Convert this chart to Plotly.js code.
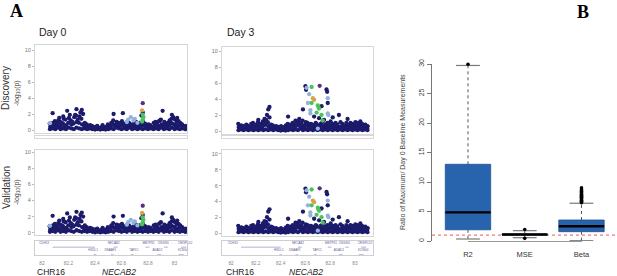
<!DOCTYPE html>
<html><head><meta charset="utf-8">
<script src="https://cdn.plot.ly/plotly-3.0.1.min.js"></script>
<style>html,body{margin:0;padding:0;background:#fff}#chart{width:617px;height:276px}</style>
</head><body><div id="chart"></div>
<script>
// ---------- Panel A data (position in Mb, -log10 p) ----------
const day0Navy = [
[82.06,0.1],[82.062,0.4],[82.058,0.8],[82.08,0.2],[82.078,0.5],[82.083,0.9],[82.10,0.1],[82.102,0.6],[82.097,1.1],
[82.12,0.3],[82.118,0.7],[82.123,1.2],[82.14,0.1],[82.142,0.5],[82.137,1.0],[82.16,0.2],[82.158,0.8],[82.163,1.4],
[82.18,0.1],[82.182,0.6],[82.177,1.3],[82.20,0.3],[82.198,0.9],[82.203,1.5],[82.22,0.2],[82.222,0.7],[82.217,1.2],
[82.24,0.1],[82.238,0.8],[82.243,1.6],[82.26,0.3],[82.262,1.0],[82.257,1.8],[82.28,0.2],[82.278,0.9],[82.283,1.7],
[82.30,0.1],[82.302,0.7],[82.297,1.4],[82.32,0.2],[82.318,0.5],[82.323,0.9],[82.34,0.1],[82.342,0.4],[82.337,0.7],
[82.36,0.2],[82.358,0.3],[82.363,0.6],[82.38,0.1],[82.382,0.4],[82.377,0.5],[82.40,0.05],[82.398,0.2],[82.403,0.4],
[82.42,0.1],[82.422,0.3],[82.417,0.5],[82.44,0.05],[82.438,0.2],[82.443,0.3],[82.46,0.1],[82.462,0.3],[82.457,0.6],
[82.48,0.05],[82.478,0.2],[82.483,0.4],[82.50,0.1],[82.502,0.3],[82.497,0.7],[82.52,0.2],[82.518,0.5],[82.523,0.9],
[82.54,0.1],[82.542,0.6],[82.537,1.2],[82.56,0.3],[82.558,0.7],[82.563,1.0],[82.58,0.2],[82.582,0.5],[82.577,0.9],
[82.60,0.1],[82.598,0.6],[82.603,1.1],[82.62,0.2],[82.622,0.4],[82.617,0.8],[82.64,0.1],[82.638,0.5],[82.643,1.0],
[82.66,0.3],[82.662,0.6],[82.657,0.9],[82.68,0.1],[82.678,0.4],[82.683,0.7],[82.70,0.2],[82.702,0.5],[82.697,0.8],
[82.72,0.1],[82.718,0.3],[82.723,0.6],[82.74,0.2],[82.742,0.5],[82.737,0.9],[82.76,0.1],[82.758,0.6],[82.763,1.0],
[82.78,0.2],[82.782,0.4],[82.777,0.8],[82.80,0.1],[82.798,0.5],[82.803,0.7],[82.82,0.2],[82.822,0.3],[82.817,0.6],
[82.84,0.1],[82.838,0.4],[82.843,0.9],[82.86,0.2],[82.862,0.6],[82.857,1.0],[82.88,0.1],[82.878,0.5],[82.883,1.1],
[82.90,0.3],[82.902,0.7],[82.897,1.3],[82.92,0.1],[82.918,0.6],[82.923,1.0],[82.94,0.2],[82.942,0.4],[82.937,0.8],
[82.96,0.1],[82.958,0.6],[82.963,1.2],[82.98,0.3],[82.982,0.8],[82.977,1.4],[83.00,0.1],[82.998,0.7],[83.003,1.3],
[83.02,0.2],[83.022,0.5],[83.017,1.0],[83.04,0.1],[83.038,0.6],[83.043,0.9],[83.06,0.2],[83.062,0.4],[83.057,0.7],
[83.08,0.1],[83.078,0.3],[83.083,0.5],
[82.08,2.1],[82.13,1.5],[82.19,2.4],[82.21,1.9],[82.26,2.6],[82.29,2.2],[82.30,2.5],[82.31,2.0],[82.25,1.9],[82.16,1.7],
[82.54,2.0],[82.61,2.1],[82.91,2.4],[82.98,1.9],[83.02,1.5],[82.99,1.6],[82.71,1.0],[82.75,1.8],[82.76,2.2],
[82.07,0.6],[82.09,0.3],[82.11,0.8],[82.15,0.9],[82.17,0.4],[82.23,1.0],[82.27,1.3],[82.33,0.6],[82.35,0.2],[82.45,0.3],
[82.51,0.4],[82.53,0.8],[82.57,0.7],[82.59,0.9],[82.63,0.6],[82.81,0.3],[82.85,0.8],[82.87,0.7],[82.89,1.2],[82.93,0.5],
[82.95,0.9],[82.97,1.0],[83.01,0.4],[83.03,1.1],[83.05,0.6],[83.07,0.3]
];
const day0Light = [[82.06,0.85],[82.65,1.3],[82.67,1.6],[82.69,1.2],[82.70,1.4],[82.64,1.0],[82.72,0.9]];
const day0Green = [[82.76,1.9],[82.765,1.6],[82.76,1.3],[82.755,1.05]];
const day0Orange = [[82.755,2.45]];
const day0Lead = [[82.76,3.35]];

const day3Navy = [
[82.06,0.1],[82.062,0.5],[82.058,0.9],[82.08,0.2],[82.078,0.4],[82.083,0.7],[82.10,0.1],[82.102,0.3],[82.097,0.6],
[82.12,0.2],[82.118,0.5],[82.123,0.8],[82.14,0.1],[82.142,0.3],[82.137,0.5],[82.16,0.2],[82.158,0.6],[82.163,0.9],
[82.18,0.1],[82.182,0.4],[82.177,1.0],[82.20,0.2],[82.198,0.5],[82.203,0.8],[82.22,0.1],[82.222,0.6],[82.217,1.1],
[82.24,0.2],[82.238,0.5],[82.243,0.9],[82.26,0.1],[82.262,0.7],[82.257,1.2],[82.28,0.2],[82.278,0.8],[82.283,1.4],
[82.30,0.1],[82.302,0.6],[82.297,1.1],[82.32,0.2],[82.318,0.4],[82.323,0.8],[82.34,0.1],[82.342,0.5],[82.337,0.7],
[82.36,0.2],[82.358,0.3],[82.363,0.6],[82.38,0.1],[82.382,0.4],[82.377,0.5],[82.40,0.05],[82.398,0.3],[82.403,0.6],
[82.42,0.1],[82.422,0.2],[82.417,0.4],[82.44,0.05],[82.438,0.3],[82.443,0.7],[82.46,0.1],[82.462,0.4],[82.457,0.9],
[82.48,0.2],[82.478,0.5],[82.483,0.8],[82.50,0.1],[82.502,0.6],[82.497,1.0],[82.52,0.2],[82.518,0.4],[82.523,0.9],
[82.54,0.1],[82.542,0.7],[82.537,1.2],[82.56,0.3],[82.558,0.6],[82.563,1.0],[82.58,0.1],[82.582,0.5],[82.577,1.3],
[82.60,0.2],[82.598,0.8],[82.603,1.1],[82.62,0.1],[82.622,0.6],[82.617,1.0],[82.64,0.2],[82.638,0.4],[82.643,0.9],
[82.66,0.1],[82.662,0.5],[82.657,0.8],[82.68,0.2],[82.678,0.6],[82.683,1.0],[82.70,0.1],[82.702,0.4],[82.697,0.7],
[82.72,0.2],[82.718,0.5],[82.723,0.9],[82.74,0.1],[82.742,0.6],[82.737,1.1],[82.76,0.2],[82.758,0.4],[82.763,0.8],
[82.78,0.1],[82.782,0.5],[82.777,1.0],[82.80,0.2],[82.798,0.7],[82.803,1.2],[82.82,0.1],[82.822,0.5],[82.817,0.9],
[82.84,0.2],[82.838,0.6],[82.843,1.0],[82.86,0.1],[82.862,0.4],[82.857,0.8],[82.88,0.2],[82.878,0.5],[82.883,1.1],
[82.90,0.1],[82.902,0.6],[82.897,0.9],[82.92,0.2],[82.918,0.4],[82.923,0.7],[82.94,0.1],[82.942,0.5],[82.937,0.8],
[82.96,0.2],[82.958,0.6],[82.963,1.0],[82.98,0.1],[82.982,0.4],[82.977,0.9],[83.00,0.2],[82.998,0.7],[83.003,1.1],
[83.02,0.1],[83.022,0.5],[83.017,1.0],[83.04,0.2],[83.038,0.6],[83.043,1.2],[83.06,0.1],[83.062,0.5],[83.057,0.9],
[83.08,0.2],[83.078,0.4],[83.083,0.8],[83.10,0.1],[83.098,0.3],[83.102,0.6],
[82.31,3.0],[82.30,2.7],[82.29,2.0],[82.31,1.7],[82.27,1.5],[82.22,1.4],[82.46,1.8],[82.58,2.7],[82.60,5.6],[82.605,5.15],
[82.77,5.2],[82.775,4.9],[82.78,3.5],[82.73,3.1],[82.82,1.7],[82.87,2.0],[82.94,1.5],[82.55,1.5],[82.52,1.3],[82.67,1.8],
[82.71,1.6],[82.75,1.4],
[82.07,0.3],[82.09,0.6],[82.11,0.4],[82.13,0.7],[82.15,0.2],[82.17,0.8],[82.19,0.5],[82.21,0.3],[82.23,0.9],[82.25,0.4],
[82.27,1.0],[82.33,0.6],[82.35,0.3],[82.37,0.5],[82.41,0.4],[82.43,0.5],[82.47,0.6],[82.49,0.3],[82.51,0.5],[82.53,0.9],
[82.57,0.8],[82.59,0.4],[82.61,0.7],[82.63,0.3],[82.65,0.6],[82.69,0.9],[82.73,0.3],[82.77,0.6],[82.79,0.3],[82.81,0.9],
[82.83,0.4],[82.85,0.7],[82.89,0.3],[82.91,0.6],[82.93,1.0],[82.95,0.4],[82.97,0.8],[82.99,0.6],[83.01,0.3],[83.03,0.8],
[83.05,0.9],[83.07,0.6],[83.09,0.4]
];
const day3Light = [[82.61,5.4],[82.63,4.6],[82.62,3.5],[82.64,2.6],[82.64,2.2],[82.78,4.1],[82.78,2.2],[82.785,2.0],[82.70,0.3]];
const day3Green = [[82.65,5.5],[82.65,3.5],[82.70,3.2],[82.705,3.0],[82.71,2.8],[82.69,2.3],[82.73,2.0],[82.74,1.3]];
const day3Orange = [[82.66,4.1],[82.67,3.9]];
const day3Lead = [[82.715,5.65]];

const yTicks = [0, 2, 4, 6, 8, 10];
const mbTicks = [82, 82.2, 82.4, 82.6, 82.8, 83];

// gene track
const geneLabels = ["CDH13 →", "NECAB2 →", "← MBTPS1", "OSGIN1 →", "← CRISPLD2", "HSDL1 ←", "DNAAF1 →", "← TAF1C", "ADAD2 →", "← KCNG4"];
const geneLabelPos = [82.03, 82.555, 82.79, 82.93, 83.065, 82.40, 82.53, 82.68, 82.885, 83.05];
const geneStart = [82.08, 82.54, 82.78, 82.92, 83.05, 82.39, 82.52, 82.67, 82.87, 83.03];
const geneEnd   = [82.40, 82.57, 82.81, 82.95, 83.09, 82.41, 82.54, 82.69, 82.90, 83.07];
const geneRow   = [0.86, 0.86, 0.86, 0.86, 0.86, 0.32, 0.32, 0.32, 0.32, 0.32];

// ---------- Panel B data (ratio of maximum / day 0 baseline) ----------
const boxCategories = ["R2", "MSE", "Beta"];
const boxLower  = [0.34, 0.56, 0.05];
const boxQ1     = [1.9, 1.0, 1.58];
const boxMedian = [4.85, 1.1, 2.5];
const boxQ3     = [13.0, 1.2, 3.56];
const boxUpper  = [29.75, 1.75, 6.4];
const outlierCategory = ["R2","MSE","MSE","Beta","Beta","Beta","Beta","Beta","Beta","Beta","Beta","Beta","Beta","Beta","Beta","Beta","Beta","Beta","Beta","Beta"];
const outlierValue    = [29.95, 1.95, 0.45, 6.5, 6.6, 6.75, 6.9, 7.0, 7.15, 7.3, 7.4, 7.6, 7.75, 7.9, 8.0, 8.2, 8.4, 8.5, 8.7, 9.0];
const baselineRatio = 1;

// ---------- helpers ----------
const W = 617, H = 276;
const dX = (a, b) => [a / W, b / W];
const dY = (t, b) => [1 - b / H, 1 - t / H];
const FONT = "Liberation Sans, Arial, sans-serif";
const NAVY = "#1c1a6b", LIGHT = "#93b2dc", GREEN = "#4cc35a", ORANGE = "#d9a14a", PURPLE = "#5b2d8c";

const traces = [];
const layout = {
  width: W, height: H, margin: {l: 0, r: 0, t: 0, b: 0},
  paper_bgcolor: "#fff", plot_bgcolor: "rgba(0,0,0,0)",
  showlegend: false, font: {family: FONT, color: "#333"},
  annotations: []
};

function addPoints(arr, color, size, xa, ya) {
  traces.push({type: "scatter", mode: "markers", x: arr.map(p => p[0]), y: arr.map(p => p[1]),
    xaxis: xa, yaxis: ya, hoverinfo: "skip",
    marker: {color: color, size: size, line: {width: 0}}});
}

const panels = [
  {n: "", data: "d0", xd: [35, 187], yd: [45, 133], xr: [81.947, 83.094], yr: [-0.375, 10.625]},
  {n: "2", data: "d3", xd: [222, 373], yd: [47, 134], xr: [81.927, 83.145], yr: [-0.375, 10.5]},
  {n: "3", data: "d0", xd: [35, 187], yd: [150, 235], xr: [81.947, 83.094], yr: [-0.29, 10.29]},
  {n: "4", data: "d3", xd: [222, 373], yd: [150, 236], xr: [81.927, 83.145], yr: [-0.38, 10.5]}
];
const sets = {
  d0: [day0Navy, day0Light, day0Green, day0Orange, day0Lead],
  d3: [day3Navy, day3Light, day3Green, day3Orange, day3Lead]
};
panels.forEach(p => {
  const xa = "x" + p.n, ya = "y" + p.n;
  const s = sets[p.data];
  addPoints(s[0], NAVY, 4.3, xa, ya);
  addPoints(s[1], LIGHT, 4.3, xa, ya);
  addPoints(s[2], GREEN, 4.3, xa, ya);
  addPoints(s[3], ORANGE, 4.3, xa, ya);
  addPoints(s[4], PURPLE, 4.3, xa, ya);
  layout["xaxis" + p.n] = {domain: dX(p.xd[0], p.xd[1]), range: p.xr, anchor: ya,
    showline: true, mirror: true, linecolor: "#d6d6d6", linewidth: 1,
    showgrid: false, zeroline: false, showticklabels: false, ticks: "", fixedrange: true};
  layout["yaxis" + p.n] = {domain: dY(p.yd[0], p.yd[1]), range: p.yr, anchor: xa,
    showline: true, mirror: true, linecolor: "#d6d6d6", linewidth: 1,
    showgrid: false, zeroline: false, tickvals: yTicks, ticks: "outside", ticklen: 2,
    tickcolor: "#bbb", tickfont: {size: 5.5, color: "#777", family: FONT}, fixedrange: true};
});

// thin (cropped) track frames under the discovery panels
[{n: "9", xd: [35, 187]}, {n: "10", xd: [222, 373]}].forEach(t => {
  layout["xaxis" + t.n] = {domain: dX(t.xd[0], t.xd[1]), range: [0, 1], anchor: "y" + t.n,
    showline: true, mirror: true, linecolor: "#d8d8d8", linewidth: 1, showgrid: false, zeroline: false,
    showticklabels: false, ticks: "", fixedrange: true};
  layout["yaxis" + t.n] = {domain: dY(136, 138), range: [0, 1], anchor: "x" + t.n,
    showline: true, mirror: true, linecolor: "#d8d8d8", linewidth: 1, showgrid: false, zeroline: false,
    showticklabels: false, ticks: "", fixedrange: true};
  traces.push({type: "scatter", mode: "markers", x: [], y: [], xaxis: "x" + t.n, yaxis: "y" + t.n, hoverinfo: "skip"});
});

// gene tracks under validation panels
[{n: "5", xd: [35, 187], xr: [81.947, 83.094]}, {n: "6", xd: [222, 373], xr: [81.927, 83.145]}].forEach(t => {
  const xa = "x" + t.n, ya = "y" + t.n;
  const lx = [], ly = [];
  geneStart.forEach((s, i) => { lx.push(s, geneEnd[i], null); ly.push(geneRow[i] - 0.3, geneRow[i] - 0.3, null); });
  traces.push({type: "scatter", mode: "lines", x: lx, y: ly, xaxis: xa, yaxis: ya, hoverinfo: "skip",
    line: {color: "#7c7cb4", width: 0.6}});
  traces.push({type: "scatter", mode: "text", x: geneLabelPos, y: geneRow, text: geneLabels,
    xaxis: xa, yaxis: ya, hoverinfo: "skip", cliponaxis: false,
    textfont: {size: 3, color: "#5a5a9a", family: FONT}});
  layout["xaxis" + t.n] = {domain: dX(t.xd[0], t.xd[1]), range: t.xr, anchor: ya,
    showline: true, mirror: true, linecolor: "#cfcfcf", linewidth: 1, showgrid: false, zeroline: false,
    tickvals: mbTicks, ticktext: mbTicks.map(String), ticks: "outside", ticklen: 3, tickcolor: "rgba(0,0,0,0)",
    tickfont: {size: 4.8, color: "#888", family: FONT}, fixedrange: true};
  layout["yaxis" + t.n] = {domain: dY(241, 255), range: [0, 1], anchor: xa,
    showline: true, mirror: true, linecolor: "#cfcfcf", linewidth: 1, showgrid: false, zeroline: false,
    showticklabels: false, ticks: "", fixedrange: true};
});

// ---------- Panel B boxplot ----------
const half = 0.4, capHalf = 0.21;
const bx = [], by = [], mx = [], my = [], wx = [], wy = [], cx = [], cy = [];
boxCategories.forEach((c, i) => {
  const k = i + 1;
  bx.push(k - half, k + half, k + half, k - half, k - half, null);
  by.push(boxQ1[i], boxQ1[i], boxQ3[i], boxQ3[i], boxQ1[i], null);
  mx.push(k - half, k + half, null); my.push(boxMedian[i], boxMedian[i], null);
  wx.push(k, k, null, k, k, null); wy.push(boxQ3[i], boxUpper[i], null, boxQ1[i], boxLower[i], null);
  cx.push(k - capHalf, k + capHalf, null, k - capHalf, k + capHalf, null);
  cy.push(boxUpper[i], boxUpper[i], null, boxLower[i], boxLower[i], null);
});
const bRange = [0.366, 3.626];
traces.push({type: "scatter", mode: "lines", x: bRange, y: [baselineRatio, baselineRatio], xaxis: "x7", yaxis: "y7",
  hoverinfo: "skip", line: {color: "#e8595b", width: 1, dash: "dot"}});
traces.push({type: "scatter", mode: "lines", x: wx, y: wy, xaxis: "x7", yaxis: "y7", hoverinfo: "skip",
  line: {color: "#555", width: 1, dash: "dot"}});
traces.push({type: "scatter", mode: "lines", x: cx, y: cy, xaxis: "x7", yaxis: "y7", hoverinfo: "skip",
  line: {color: "#7a7a7a", width: 1.2}});
traces.push({type: "scatter", mode: "lines", x: bx, y: by, xaxis: "x7", yaxis: "y7", hoverinfo: "skip",
  fill: "toself", fillcolor: "#2764ad", line: {color: "#1f4f8e", width: 0.8}});
traces.push({type: "scatter", mode: "lines", x: mx, y: my, xaxis: "x7", yaxis: "y7", hoverinfo: "skip",
  line: {color: "#000", width: 2.4}});
traces.push({type: "scatter", mode: "markers", x: outlierCategory.map(c => boxCategories.indexOf(c) + 1), y: outlierValue,
  xaxis: "x8", yaxis: "y7", hoverinfo: "skip", cliponaxis: false,
  marker: {color: "#000", size: 3.6, line: {width: 0}}});

layout.xaxis7 = {domain: dX(432, 617), range: bRange, anchor: "y7", showline: false, showgrid: false, zeroline: false,
  tickvals: boxCategories.map((c, i) => i + 1), ticktext: boxCategories, ticks: "outside", ticklen: 6,
  tickcolor: "rgba(0,0,0,0)", tickfont: {size: 7.5, color: "#333", family: FONT}, fixedrange: true};
layout.yaxis7 = {domain: dY(64, 241), range: [0, 30], anchor: "x7", showline: true, linecolor: "#777", linewidth: 1,
  showgrid: false, zeroline: false, tickvals: [0, 5, 10, 15, 20, 25, 30], ticks: "outside", ticklen: 4,
  tickcolor: "#777", tickangle: -90, tickfont: {size: 7, color: "#444", family: FONT}, fixedrange: true};
layout.xaxis8 = {domain: dX(468, 581.5), range: [1, 3], anchor: "y7", showline: true, linecolor: "#999", linewidth: 1,
  showgrid: false, zeroline: false, showticklabels: false, ticks: "", fixedrange: true};

// ---------- text ----------
function ann(text, x, y, opts) {
  layout.annotations.push(Object.assign({text: text, x: x / W, y: 1 - y / H, xref: "paper", yref: "paper",
    showarrow: false, xanchor: "center", yanchor: "middle", font: {family: FONT, size: 10, color: "#222"}}, opts || {}));
}
ann("<b>A</b>", 16, 11, {font: {family: "Liberation Serif, Times New Roman, serif", size: 18, color: "#000"}});
ann("<b>B</b>", 583, 12, {font: {family: "Liberation Serif, Times New Roman, serif", size: 18, color: "#000"}});
ann("Day 0", 37, 32, {xanchor: "left", font: {family: FONT, size: 10.5, color: "#222"}});
ann("Day 3", 225, 32, {xanchor: "left", font: {family: FONT, size: 10.5, color: "#222"}});
ann("Discovery", 6, 88, {textangle: -90, font: {family: FONT, size: 10, color: "#333"}});
ann("-log<sub>10</sub>(p)", 17, 93, {textangle: -90, font: {family: FONT, size: 7, color: "#444"}});
ann("Validation", 6, 188, {textangle: -90, font: {family: FONT, size: 10, color: "#333"}});
ann("-log<sub>10</sub>(p)", 17, 192, {textangle: -90, font: {family: FONT, size: 7, color: "#444"}});
ann("CHR16", 35, 272, {xanchor: "left", font: {family: FONT, size: 8.5, color: "#222"}});
ann("<i>NECAB2</i>", 100, 272, {xanchor: "left", font: {family: FONT, size: 8.5, color: "#222"}});
ann("CHR16", 224, 272, {xanchor: "left", font: {family: FONT, size: 8.5, color: "#222"}});
ann("<i>NECAB2</i>", 287, 272, {xanchor: "left", font: {family: FONT, size: 8.5, color: "#222"}});
ann("Ratio of Maximum/ Day 0 Baseline Measurements", 403, 152, {textangle: -90, font: {family: FONT, size: 7, color: "#444"}});

Plotly.newPlot("chart", traces, layout, {staticPlot: true, displayModeBar: false});
</script></body></html>
